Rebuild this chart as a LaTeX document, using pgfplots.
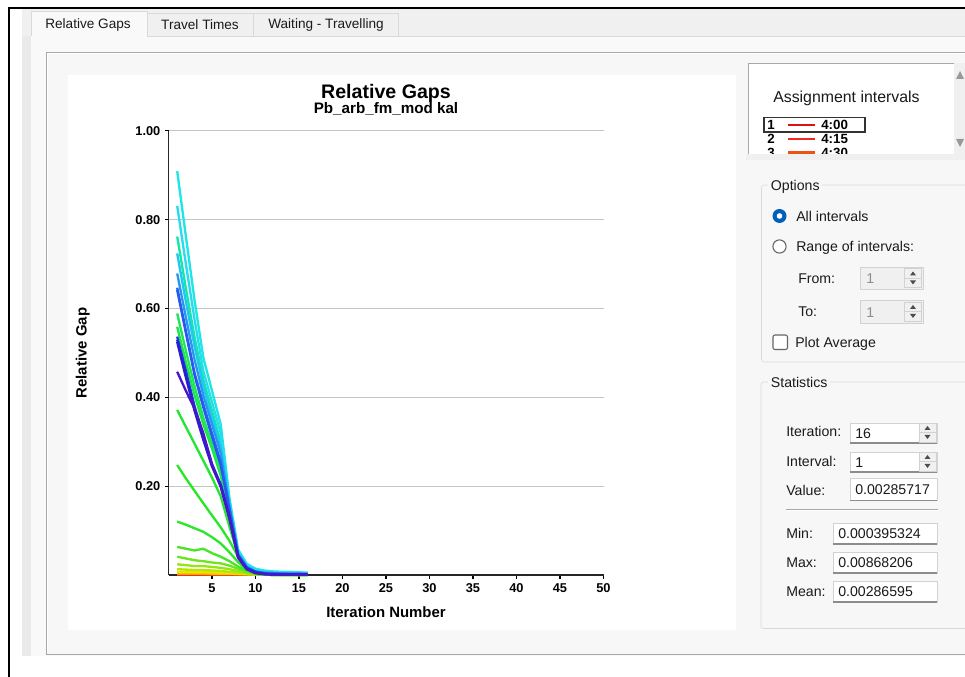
\documentclass[border=0pt]{standalone}
\usepackage{fontspec}
\setmainfont{Liberation Sans}
\usepackage{pgfplots}
\usepackage{pgfplotstable}
\pgfplotsset{compat=1.18}

\definecolor{winbg}{HTML}{F0F0F0}
\definecolor{pagebg}{HTML}{F9F9F9}
\definecolor{stripbg}{HTML}{EAEAEA}
\definecolor{panelbg}{HTML}{F7F7F7}
\definecolor{tabborder}{HTML}{D9D9D9}
\definecolor{panelborder}{HTML}{A8A8A8}
\definecolor{gridc}{HTML}{C4C4C4}
\definecolor{grpborder}{HTML}{D8D8D8}
\definecolor{boxborder}{HTML}{D2D2D2}
\definecolor{radioblue}{HTML}{0060B8}
\definecolor{guitext}{HTML}{1A1A1A}

\definecolor{c1}{HTML}{E01010}
\definecolor{c2}{HTML}{F02828}
\definecolor{c3}{HTML}{F05014}
\definecolor{c4}{HTML}{F58C00}
\definecolor{c5}{HTML}{F5C000}
\definecolor{c6}{HTML}{E6E600}
\definecolor{c7}{HTML}{B4E600}
\definecolor{c8}{HTML}{96E614}
\definecolor{c9}{HTML}{6EE61E}
\definecolor{c10}{HTML}{46E628}
\definecolor{c11}{HTML}{2DE62D}
\definecolor{c12}{HTML}{28E628}
\definecolor{c13}{HTML}{23E632}
\definecolor{c14}{HTML}{1EE646}
\definecolor{c15}{HTML}{1EE65A}
\definecolor{c16}{HTML}{14E6AA}
\definecolor{c17}{HTML}{1EE6E6}
\definecolor{c18}{HTML}{28DCF0}
\definecolor{c19}{HTML}{1EC8F0}
\definecolor{c20}{HTML}{2896F0}
\definecolor{c21}{HTML}{1E6EF0}
\definecolor{c22}{HTML}{2858F0}
\definecolor{c23}{HTML}{1E3CE6}
\definecolor{c24}{HTML}{1E2ADC}
\definecolor{c25}{HTML}{2A1ED2}
\definecolor{c26}{HTML}{4A14C8}

\newcommand{\guifont}{\fontsize{10.6}{12}\selectfont}

\pgfplotstableread{
i s1 s2 s3 s4 s5 s6 s7 s8 s9 s10 s11 s12 s13 s14 s15 s16 s17 s18 s19 s20 s21 s22 s23 s24 s25 s26
1 0.003 0.002 0.003 0.004 0.005 0.008 0.014 0.025 0.042 0.064 0.121 0.248 0.372 0.559 0.589 0.762 0.909 0.831 0.724 0.679 0.647 0.642 0.537 0.530 0.525 0.458
2 0.003 0.002 0.003 0.004 0.005 0.008 0.013 0.023 0.038 0.060 0.114 0.218 0.334 0.480 0.505 0.645 0.762 0.700 0.615 0.580 0.550 0.545 0.460 0.452 0.445 0.415
3 0.003 0.002 0.003 0.004 0.005 0.007 0.012 0.021 0.034 0.056 0.106 0.190 0.296 0.405 0.425 0.535 0.618 0.575 0.515 0.485 0.455 0.450 0.380 0.375 0.370 0.375
4 0.003 0.002 0.003 0.003 0.005 0.007 0.012 0.021 0.032 0.060 0.098 0.162 0.258 0.340 0.355 0.440 0.490 0.460 0.425 0.405 0.385 0.378 0.315 0.310 0.305 0.320
5 0.003 0.002 0.002 0.003 0.004 0.007 0.011 0.019 0.029 0.050 0.086 0.135 0.220 0.285 0.295 0.370 0.415 0.390 0.355 0.340 0.320 0.312 0.250 0.247 0.245 0.250
6 0.003 0.002 0.002 0.003 0.004 0.006 0.010 0.017 0.027 0.042 0.072 0.108 0.178 0.225 0.235 0.300 0.340 0.320 0.290 0.275 0.255 0.248 0.205 0.203 0.200 0.200
7 0.003 0.002 0.002 0.003 0.004 0.005 0.008 0.014 0.022 0.032 0.052 0.078 0.110 0.140 0.145 0.160 0.175 0.165 0.160 0.155 0.150 0.148 0.135 0.132 0.130 0.128
8 0.003 0.002 0.002 0.003 0.003 0.004 0.006 0.010 0.015 0.020 0.030 0.042 0.045 0.044 0.045 0.050 0.058 0.052 0.050 0.048 0.046 0.045 0.044 0.042 0.040 0.040
9 0.003 0.002 0.002 0.002 0.003 0.003 0.004 0.006 0.008 0.010 0.012 0.014 0.016 0.016 0.017 0.020 0.026 0.022 0.020 0.019 0.018 0.017 0.016 0.015 0.014 0.014
10 0.003 0.002 0.002 0.002 0.002 0.002 0.002 0.003 0.003 0.004 0.004 0.004 0.005 0.007 0.008 0.011 0.015 0.012 0.010 0.009 0.008 0.008 0.007 0.006 0.006 0.005
11 0.003 0.002 0.002 0.002 0.002 0.002 0.002 0.002 0.002 0.002 0.002 0.002 0.003 0.004 0.005 0.008 0.011 0.009 0.007 0.006 0.005 0.005 0.004 0.003 0.003 0.003
12 0.003 0.002 0.002 0.002 0.002 0.002 0.001 0.001 0.001 0.001 0.001 0.002 0.002 0.003 0.004 0.007 0.009 0.008 0.006 0.005 0.004 0.004 0.003 0.002 0.002 0.002
13 0.003 0.002 0.002 0.002 0.002 0.002 0.001 0.001 0.001 0.001 0.001 0.001 0.002 0.003 0.003 0.006 0.008 0.007 0.005 0.004 0.004 0.003 0.002 0.002 0.002 0.002
14 0.003 0.002 0.002 0.002 0.002 0.002 0.001 0.001 0.001 0.001 0.001 0.001 0.002 0.003 0.003 0.005 0.008 0.006 0.005 0.004 0.003 0.003 0.002 0.002 0.002 0.002
15 0.003 0.002 0.002 0.002 0.002 0.002 0.001 0.001 0.001 0.001 0.001 0.001 0.001 0.002 0.003 0.005 0.007 0.006 0.004 0.004 0.003 0.003 0.002 0.002 0.002 0.002
16 0.0029 0.002 0.002 0.002 0.002 0.002 0.001 0.001 0.001 0.001 0.001 0.001 0.001 0.002 0.002 0.004 0.006 0.005 0.004 0.003 0.003 0.003 0.002 0.002 0.002 0.002
}\gaps

% text box: x1, ytop, x2, ybottom (pixel coords, y downward)
\newcommand{\tbox}[4]{%
  \filldraw[fill=white,draw=boxborder] (#1,{677-#4}) rectangle (#3,{677-#2});
  \draw[black!45,line width=0.8pt] (#1,{677-#4}) -- (#3,{677-#4});}
% spinner: centre x, centre y
\newcommand{\spin}[2]{%
  \filldraw[fill=winbg,draw=boxborder] ({#1-8.5},{677-#2-9.5}) rectangle ({#1+8.5},{677-#2+9.5});
  \draw[boxborder] ({#1-8.5},{677-#2}) -- ({#1+8.5},{677-#2});
  \fill[black!70] ({#1-3},{677-#2+2.5}) -- ({#1+3},{677-#2+2.5}) -- (#1,{677-#2+6.5}) -- cycle;
  \fill[black!70] ({#1-3},{677-#2-2.5}) -- ({#1+3},{677-#2-2.5}) -- (#1,{677-#2-6.5}) -- cycle;}

\begin{document}
\begin{tikzpicture}[x=0.75pt,y=0.75pt,
  gui/.style={anchor=west,inner sep=0pt,text height=7.6pt,text depth=0pt,font=\guifont,text=guitext}]
\useasboundingbox (0,0) rectangle (965,677);
\clip (0,0) rectangle (965,677);
\fill[white] (0,0) rectangle (965,677);
% window background
\fill[winbg] (22,{677-656}) rectangle (965,{677-9});
\fill[pagebg] (31,{677-656}) rectangle (965,{677-36});
\fill[stripbg] (22,{677-656}) rectangle (31,{677-36});
% tabs
\filldraw[fill=winbg,draw=tabborder] (147,{677-36}) rectangle (253,{677-13});
\filldraw[fill=winbg,draw=tabborder] (253,{677-36}) rectangle (398,{677-13});
\draw[tabborder] (147,{677-36}) -- (965,{677-36});
\fill[pagebg] (31.5,{677-37}) rectangle (147,{677-11.5});
\draw[tabborder] (31.5,{677-36}) -- (31.5,{677-11.5}) -- (147,{677-11.5}) -- (147,{677-36});
\node[font=\fontsize{10.2}{12}\selectfont,text=guitext] at (88,{677-25}) {Relative Gaps};
\node[font=\fontsize{10.2}{12}\selectfont,text=guitext] at (200,{677-25}) {Travel Times};
\node[font=\fontsize{10.2}{12}\selectfont,text=guitext] at (326,{677-25}) {Waiting - Travelling};
% inner panel
\filldraw[fill=panelbg,draw=panelborder] (46.5,{677-654}) rectangle (975,{677-52});
\draw[white] (47.7,{677-652.8}) -- (47.7,{677-53.2}) -- (975,{677-53.2});
% chart area
\fill[white] (68,{677-630}) rectangle (736,{677-75});
% black frame
\draw[black,line width=1.8pt] (8.7,-2) -- (8.7,{677-8.3}) -- (968,{677-8.3});

% title
\node[anchor=base,font=\bfseries\fontsize{14.7}{17}\selectfont] at (386,{677-98.6}) {Relative Gaps};
\node[anchor=base,font=\bfseries\fontsize{11.4}{13}\selectfont] at (386,{677-114}) {Pb\_arb\_fm\_mod kal};

\begin{axis}[
  at={(126.375pt,76.2pt)}, anchor=south west,
  scale only axis, width=326.25pt, height=333.5pt,
  xmin=0, xmax=50, ymin=0, ymax=1,
  axis x line*=bottom, axis y line*=left,
  axis line style={black!85,line width=1.4pt},
  xtick={5,10,15,20,25,30,35,40,45,50},
  ytick={0.2,0.4,0.6,0.8,1.0},
  tick align=outside, major tick length=2.6pt,
  tick style={black,line width=1pt},
  ymajorgrids, grid style={color=gridc,line width=1pt},
  /pgf/number format/assume math mode=true,
  yticklabel style={/pgf/number format/fixed,/pgf/number format/fixed zerofill,/pgf/number format/precision=2},
  ticklabel style={font=\bfseries\fontsize{9.6}{11}\selectfont},
  xlabel={Iteration Number}, ylabel={Relative Gap},
  label style={font=\bfseries\fontsize{11.2}{13}\selectfont},
  xlabel style={at={(axis description cs:0.5,-0.082)},anchor=center},
  ylabel style={at={(axis description cs:-0.197,0.5)},anchor=center},
  clip=false,
  every axis plot/.append style={line width=1.75pt,no markers,line join=round},
]
\pgfplotsinvokeforeach{1,...,26}{
  \addplot[color=c#1] table[x=i,y=s#1]{\gaps};
}
\end{axis}

% legend box (right)
\filldraw[fill=white,draw=panelborder] (748,{677-154}) rectangle (954,{677-63});
\fill[winbg] (954,{677-154}) rectangle (968,{677-63});
\fill[black!40] (956,{677-79}) -- (964,{677-79}) -- (960,{677-71}) -- cycle;
\fill[black!40] (956,{677-139}) -- (964,{677-139}) -- (960,{677-147}) -- cycle;
\fill[winbg] (746,{677-160}) rectangle (968,{677-154});
\node[anchor=west,inner sep=0pt,font=\fontsize{11.9}{14}\selectfont,text=guitext] at (773,{677-98}) {Assignment intervals};
\begin{scope}
\clip (748,{677-154}) rectangle (954,{677-63});
\foreach \n/\t/\c/\yy in {1/4:00/c1/125,2/4:15/c2/139,3/4:30/c3/152.5}{
  \node[anchor=west,inner sep=0pt,font=\bfseries\fontsize{10}{11}\selectfont] at (767,{677-\yy}) {\n};
  \draw[\c,line width=1.6pt] (788,{677-\yy}) -- (815,{677-\yy});
  \node[anchor=west,inner sep=0pt,font=\bfseries\fontsize{10}{11}\selectfont] at (821,{677-\yy}) {\t};
}
\end{scope}
\draw[black!80,line width=0.8pt] (764,{677-132}) rectangle (865,{677-117.5});

% Options group
\draw[grpborder,rounded corners=2pt] (761.5,{677-362}) rectangle (980,{677-185});
\node[gui,fill=panelbg,inner xsep=2pt] at (768,{677-185}) {Options};
\fill[radioblue] (779.5,{677-216}) circle (7);
\fill[white] (779.5,{677-216}) circle (2.8);
\node[gui] at (796,{677-216}) {All intervals};
\filldraw[fill=white,draw=black!60,line width=0.8pt] (779.5,{677-246.5}) circle (6.6);
\node[gui] at (796,{677-246.5}) {Range of intervals:};
\node[gui] at (798,{677-278}) {From:};
\filldraw[fill=winbg,draw=boxborder] (860,{677-289}) rectangle (923,{677-267});
\node[gui,text=black!45] at (866,{677-278.5}) {1};
\spin{913}{278}
\node[gui] at (798,{677-311.5}) {To:};
\filldraw[fill=winbg,draw=boxborder] (860,{677-323}) rectangle (923,{677-300});
\node[gui,text=black!45] at (866,{677-312}) {1};
\spin{913}{311.5}
\filldraw[fill=white,draw=black!60,line width=0.8pt,rounded corners=1.5pt] (773,{677-349.5}) rectangle (787.5,{677-335});
\node[gui] at (795,{677-342.5}) {Plot Average};

% Statistics group
\draw[grpborder,rounded corners=2pt] (761,{677-628.5}) rectangle (980,{677-382});
\node[gui,fill=panelbg,inner xsep=2pt] at (768,{677-382.5}) {Statistics};
\node[gui] at (786,{677-431.5}) {Iteration:};
\tbox{850}{423}{937}{443}
\node[gui] at (855,{677-433}) {16};
\spin{927.5}{432.5}
\node[gui] at (786,{677-461}) {Interval:};
\tbox{850}{452}{937}{472}
\node[gui] at (855,{677-462}) {1};
\spin{927.5}{461.5}
\node[gui] at (786,{677-490}) {Value:};
\tbox{850}{478.5}{937}{500.5}
\node[gui] at (855,{677-489.5}) {0.00285717};
\draw[black!35] (786,{677-509.5}) -- (938,{677-509.5});
\draw[white] (786,{677-510.5}) -- (938,{677-510.5});
\node[gui] at (786,{677-533.5}) {Min:};
\tbox{833}{523}{937}{544}
\node[gui] at (838,{677-533.5}) {0.000395324};
\node[gui] at (786,{677-562.5}) {Max:};
\tbox{833}{552}{937}{573}
\node[gui] at (838,{677-562.5}) {0.00868206};
\node[gui] at (786,{677-591.5}) {Mean:};
\tbox{833}{581}{937}{602}
\node[gui] at (838,{677-591.5}) {0.00286595};
\end{tikzpicture}
\end{document}
